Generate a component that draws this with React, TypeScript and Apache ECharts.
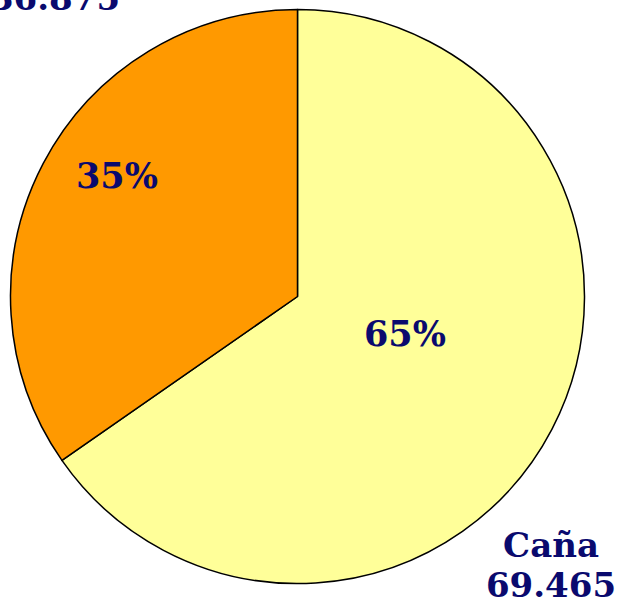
import React, { useEffect, useRef } from "react";
import * as echarts from "echarts";

const categories = ["Caña", "Remolacha"];
const values = [69465, 36875];
const colors = ["#FFFF99", "#FF9900"];

const fmt = (v: number) => String(v).replace(/\B(?=(\d{3})+(?!\d))/g, ".");

export default function App() {
  const ref = useRef<HTMLDivElement>(null);
  useEffect(() => {
    if (!ref.current) return;
    const chart = echarts.init(ref.current, undefined, { renderer: "svg" });
    const data = categories.map((name, i) => ({
      name,
      value: values[i],
      itemStyle: { color: colors[i] },
    }));
    const font = "'DejaVu Serif', serif";
    const navy = "#0a0a6e";
    const innerPos = [
      [405, 333],
      [117, 175],
    ];
    const outerPos = [
      [551, 565],
      [55, -22],
    ];
    chart.setOption({
      animation: false,
      backgroundColor: "#ffffff",
      series: [
        {
          type: "pie",
          center: [297.5, 296.5],
          radius: [0, 287],
          startAngle: 90,
          clockwise: true,
          silent: true,
          data,
          itemStyle: { borderColor: "#000000", borderWidth: 1.5 },
          label: {
            show: true,
            position: "inside",
            formatter: (p: any) => `${Math.round(p.percent)}%`,
            fontFamily: font,
            fontWeight: "bold",
            fontSize: 35,
            color: navy,
          },
          labelLine: { show: false },
          labelLayout: (p: any) => ({
            x: innerPos[p.dataIndex][0],
            y: innerPos[p.dataIndex][1],
            align: "center",
            verticalAlign: "middle",
          }),
        },
        {
          type: "pie",
          center: [297.5, 296.5],
          radius: [0, 287],
          startAngle: 90,
          clockwise: true,
          silent: true,
          z: 5,
          data: data.map((d) => ({ ...d, itemStyle: { color: "rgba(0,0,0,0)" } })),
          itemStyle: { borderWidth: 0 },
          label: {
            show: true,
            position: "inside",
            formatter: (p: any) => `${p.name}\n${fmt(p.value)}`,
            fontFamily: font,
            fontWeight: "bold",
            fontSize: 34,
            lineHeight: 40,
            color: navy,
            align: "center",
          },
          labelLine: { show: false },
          labelLayout: (p: any) => ({
            x: outerPos[p.dataIndex][0],
            y: outerPos[p.dataIndex][1],
            align: "center",
            verticalAlign: "middle",
          }),
        },
      ],
    });
    return () => chart.dispose();
  }, []);
  return (
    <div
      ref={ref}
      style={{ position: "absolute", left: 0, top: 0, width: 621, height: 606 }}
    />
  );
}
